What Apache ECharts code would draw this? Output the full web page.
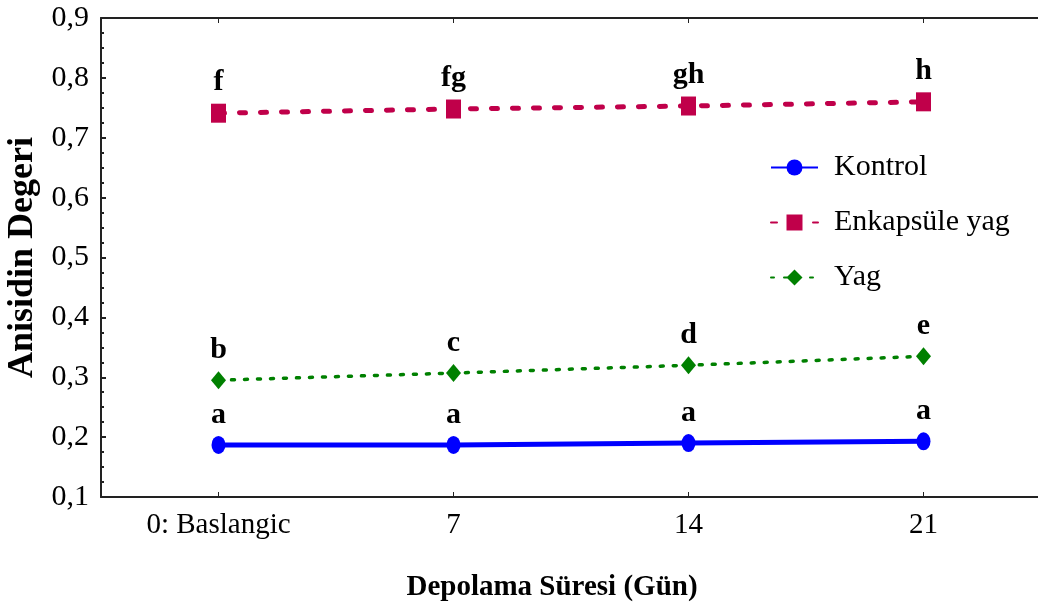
<!DOCTYPE html>
<html>
<head>
<meta charset="utf-8">
<script src="https://cdn.jsdelivr.net/npm/echarts@6/dist/echarts.min.js"></script>
<style>html,body{margin:0;padding:0;background:#fff;}#chart{width:1038px;height:610px;}</style>
</head>
<body>
<div id="chart"></div>
<script>
var categories = ['0: Baslangic', '7', '14', '21'];
var kontrol = [0.187, 0.187, 0.190, 0.193];
var enkapsule = [0.741, 0.748, 0.753, 0.760];
var yag = [0.295, 0.307, 0.320, 0.335];
var kontrolLetters = ['a', 'a', 'a', 'a'];
var enkapsuleLetters = ['f', 'fg', 'gh', 'h'];
var yagLetters = ['b', 'c', 'd', 'e'];
var seriesNames = ['Kontrol', 'Enkapsüle yag', 'Yag'];
var yTicks = { min: 0.1, max: 0.9, interval: 0.1 };

var FONT = '"Liberation Serif", "Times New Roman", serif';
var chart = echarts.init(document.getElementById('chart'));

function letterLabel(arr) {
  return {
    show: true, position: 'top', distance: 6,
    fontFamily: FONT, fontWeight: 'bold', fontSize: 30, color: '#000',
    formatter: function (p) { return arr[p.dataIndex]; }
  };
}

chart.setOption({
  animation: false,
  backgroundColor: '#fff',
  grid: { left: 101, right: -3, top: 18, bottom: 113, containLabel: false, outerBoundsMode: 'none' },
  legend: {
    orient: 'vertical', left: 770, top: 152, padding: 0,
    itemWidth: 47, itemHeight: 20, itemGap: 24,
    textStyle: { fontFamily: FONT, fontSize: 30, color: '#000', lineHeight: 31, padding: [0, 0, 0, 11] },
    data: seriesNames
  },
  xAxis: [{
    type: 'category', data: categories, position: 'bottom', boundaryGap: true,
    axisLine: { show: true, lineStyle: { color: '#222', width: 2 } },
    axisTick: { show: true, inside: true, alignWithLabel: true, length: 5, lineStyle: { color: '#222' } },
    axisLabel: { fontFamily: FONT, fontSize: 29, color: '#000', margin: 14 },
    splitLine: { show: false },
    name: 'Depolama Süresi (Gün)', nameLocation: 'middle', nameGap: 76,
    nameTextStyle: { fontFamily: FONT, fontSize: 29, fontWeight: 'bold', color: '#000', padding: [0, 38, 0, 0] }
  }, {
    type: 'category', data: categories, position: 'top', boundaryGap: true,
    axisLine: { show: true, lineStyle: { color: '#222', width: 2 } },
    axisTick: { show: true, inside: true, alignWithLabel: true, length: 5, lineStyle: { color: '#222' } },
    axisLabel: { show: false }, splitLine: { show: false }
  }],
  yAxis: {
    type: 'value', min: yTicks.min, max: yTicks.max, interval: yTicks.interval,
    axisLine: { show: true, lineStyle: { color: '#222', width: 2 } },
    axisTick: { show: true, inside: true, length: 5, lineStyle: { color: '#222', width: 2 } },
    minorTick: { show: true, splitNumber: 4, length: 3, lineStyle: { color: '#222', width: 2 } },
    axisLabel: {
      fontFamily: FONT, fontSize: 30, color: '#000', margin: 12,
      formatter: function (v) { return v.toFixed(1).replace('.', ','); }
    },
    splitLine: { show: false },
    name: 'Anisidin Degeri', nameLocation: 'middle', nameGap: 60, nameRotate: 90,
    nameTextStyle: { fontFamily: FONT, fontSize: 36, fontWeight: 'bold', color: '#000' }
  },
  series: [{
    name: seriesNames[0], type: 'line', data: kontrol,
    symbol: 'circle', symbolSize: [14, 18],
    itemStyle: { color: '#0000ff' },
    lineStyle: { color: '#0000ff', width: 5 },
    label: letterLabel(kontrolLetters), z: 3
  }, {
    name: seriesNames[1], type: 'line', data: enkapsule,
    symbol: 'rect', symbolSize: [15, 19],
    itemStyle: { color: '#c0004a' },
    lineStyle: { color: '#c0004a', width: 5, type: [6, 15], cap: 'round' },
    label: letterLabel(enkapsuleLetters), z: 3
  }, {
    name: seriesNames[2], type: 'line', data: yag,
    symbol: 'diamond', symbolSize: [15, 18],
    itemStyle: { color: '#008000' },
    lineStyle: { color: '#008000', width: 3.5, type: [3, 10], cap: 'round' },
    label: letterLabel(yagLetters), z: 3
  }]
});
</script>
</body>
</html>
